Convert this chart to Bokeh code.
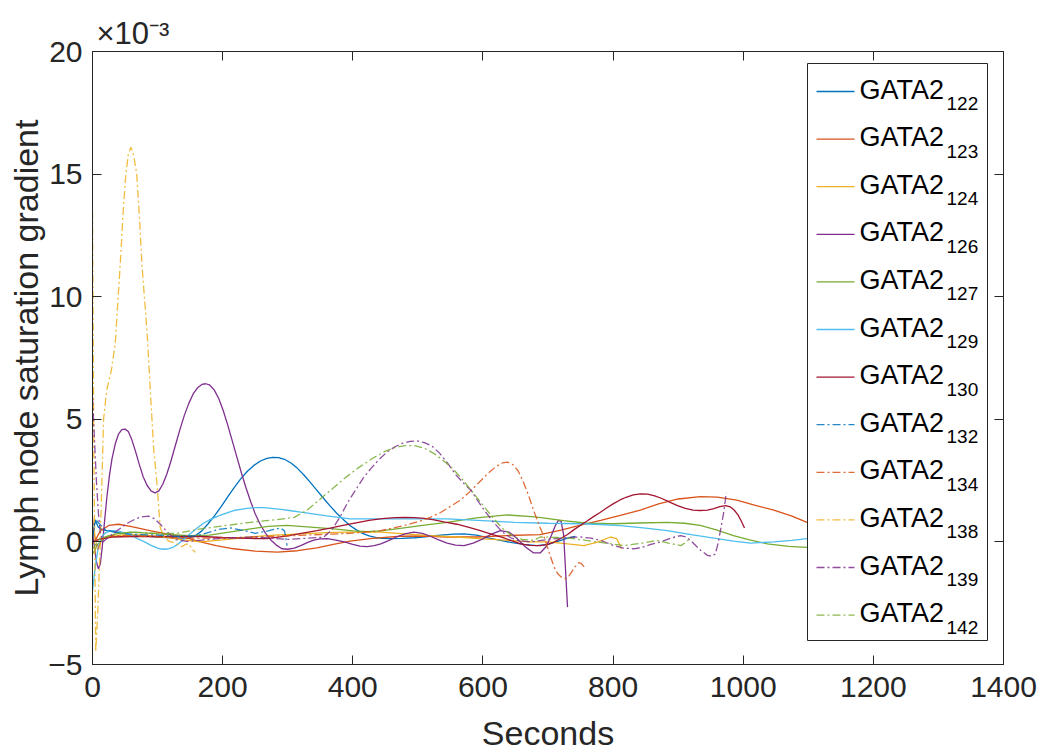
from bokeh.plotting import figure
from bokeh.models import Range1d, LinearAxis, FixedTicker, Label
from bokeh.embed import file_html
from bokeh.resources import INLINE

# ---------------------------------------------------------------------------
# Data: lymph node saturation gradient (units of 1e-3) against time in seconds
# ---------------------------------------------------------------------------
t_122 = [0, 4, 9, 15, 22, 35, 50, 71, 100, 130, 148, 158, 168, 178, 188, 198, 208, 218, 228, 238,
         248, 258, 268, 277, 286, 295, 305, 315, 325, 335, 345, 355, 365, 375, 385, 395, 405, 415,
         425, 435, 445, 458, 475, 495, 515, 535, 555, 571, 590, 610, 627, 645, 663, 683, 700, 715,
         730, 742]
v_122 = [0, 0.9, 0.6, 0.5, 0.46, 0.4, 0.33, 0.26, 0.2, 0.15, 0.16, 0.25, 0.45, 0.75, 1.08, 1.45,
         1.85, 2.22, 2.58, 2.88, 3.12, 3.3, 3.41, 3.45, 3.44, 3.37, 3.22, 3.0, 2.73, 2.42, 2.1, 1.78,
         1.47, 1.18, 0.92, 0.68, 0.5, 0.35, 0.25, 0.18, 0.14, 0.13, 0.14, 0.17, 0.22, 0.28, 0.32,
         0.33, 0.28, 0.15, 0.06, -0.03, -0.1, -0.15, -0.1, 0.02, 0.15, 0.23]

t_123 = [0, 5, 12, 25, 40, 60, 90, 120, 150, 166, 190, 217, 250, 284, 315, 345, 370, 396, 430, 473,
         510, 545, 590, 637, 688, 720, 750, 781, 811, 842, 870, 900, 934, 960, 990, 1020, 1047, 1075,
         1098, 1130, 1170, 1210]
v_123 = [0, 0.1, 0.45, 0.67, 0.72, 0.62, 0.45, 0.3, 0.12, 0.0, -0.15, -0.28, -0.38, -0.42, -0.36,
         -0.24, -0.1, 0.03, 0.14, 0.23, 0.24, 0.2, 0.2, 0.26, 0.3, 0.48, 0.68, 0.88, 1.08, 1.3, 1.55,
         1.75, 1.85, 1.83, 1.7, 1.48, 1.3, 1.05, 0.8, 0.5, 0.2, 0.0]

t_124 = [0, 10, 25, 50, 80, 110, 140, 166, 200, 240, 280, 320, 360, 396, 443, 480, 519, 560, 596, 640,
         673, 700, 730, 755, 775, 796, 806, 813]
v_124 = [0, 0.1, 0.2, 0.3, 0.28, 0.2, 0.08, 0.0, 0.08, 0.2, 0.28, 0.33, 0.38, 0.4, 0.4, 0.33, 0.26,
         0.2, 0.13, 0.06, 0.0, 0.0, -0.08, -0.15, -0.02, 0.2, 0.12, -0.28]

t_126 = [0, 3, 6, 9, 12, 15, 18, 22, 26, 30, 35, 40, 45, 50, 55, 60, 66, 72, 78, 84, 90, 96, 102, 108,
         114, 120, 127, 134, 141, 148, 155, 162, 168, 174, 180, 187, 194, 201, 208, 215, 222, 229,
         236, 243, 250, 258, 266, 274, 282, 291, 300, 310, 320, 330, 340, 350, 361, 372, 387, 400,
         411, 422, 433, 443, 455, 467, 480, 494, 507, 520, 532, 545, 558, 571, 585, 600, 613, 627,
         640, 652, 665, 678, 688, 697, 705, 711, 716, 720, 724, 727, 730]
v_126 = [0.3, -0.2, -0.8, -1.1, -0.9, -0.2, 0.7, 1.8, 2.7, 3.4, 4.0, 4.4, 4.58, 4.6, 4.5, 4.2, 3.7,
         3.15, 2.65, 2.3, 2.08, 2.0, 2.08, 2.35, 2.75, 3.25, 3.9, 4.55, 5.15, 5.65, 6.05, 6.3, 6.42,
         6.45, 6.4, 6.2, 5.85, 5.35, 4.75, 4.1, 3.45, 2.8, 2.2, 1.65, 1.15, 0.7, 0.35, 0.08, -0.12,
         -0.28, -0.3, -0.25, -0.15, -0.03, 0.07, 0.12, 0.13, 0.08, 0.0, -0.1, -0.17, -0.19, -0.15,
         -0.08, 0.05, 0.2, 0.33, 0.4, 0.35, 0.22, 0.08, -0.05, -0.13, -0.15, -0.05, 0.12, 0.32, 0.46,
         0.4, 0.15, -0.2, -0.45, -0.45, -0.2, 0.25, 0.65, 0.88, 0.85, 0.3, -1.17, -2.66]

t_127 = [0, 8, 20, 40, 60, 90, 120, 150, 180, 210, 243, 270, 299, 335, 371, 400, 422, 443, 473, 510,
         545, 590, 637, 680, 724, 760, 800, 840, 883, 910, 934, 960, 985, 1010, 1037, 1070, 1098, 1130,
         1170]
v_127 = [-0.5, -0.1, 0.2, 0.35, 0.4, 0.35, 0.3, 0.25, 0.28, 0.4, 0.53, 0.63, 0.67, 0.6, 0.53, 0.45,
         0.42, 0.45, 0.55, 0.68, 0.8, 0.98, 1.1, 1.02, 0.87, 0.76, 0.74, 0.77, 0.8, 0.76, 0.67, 0.48,
         0.26, 0.08, -0.08, -0.18, -0.22, -0.2, -0.15]

t_129 = [0, 3, 6, 9, 12, 16, 20, 26, 32, 40, 50, 60, 70, 80, 90, 100, 106, 112, 118, 125, 132, 140,
         150, 160, 170, 180, 190, 200, 217, 230, 240, 250, 263, 275, 290, 305, 320, 360, 396, 430,
         473, 510, 545, 600, 648, 700, 750, 781, 811, 850, 883, 920, 960, 985, 1011, 1047, 1075, 1098,
         1130, 1170]
v_129 = [-2.0, -1.3, -0.7, -0.2, 0.1, 0.27, 0.37, 0.44, 0.46, 0.44, 0.36, 0.25, 0.12, 0.0, -0.14,
         -0.25, -0.29, -0.3, -0.27, -0.2, -0.08, 0.1, 0.33, 0.55, 0.75, 0.9, 1.02, 1.12, 1.28, 1.34,
         1.38, 1.4, 1.4, 1.37, 1.33, 1.27, 1.21, 1.06, 0.94, 0.94, 0.94, 0.94, 0.94, 0.87, 0.8, 0.76,
         0.74, 0.71, 0.66, 0.56, 0.46, 0.3, 0.13, 0.03, -0.05, 0.0, 0.06, 0.13, 0.2, 0.3]

t_130 = [0, 10, 30, 60, 100, 140, 166, 200, 240, 268, 300, 325, 345, 365, 385, 405, 425, 445, 465,
         480, 495, 510, 525, 540, 560, 580, 596, 615, 630, 645, 658, 672, 688, 700, 710, 720, 730,
         740, 750, 760, 770, 780, 790, 800, 810, 820, 831, 842, 853, 864, 875, 887, 899, 911, 923,
         934, 945, 955, 964, 973, 980, 986, 992, 997, 1002]
v_130 = [0.0, 0.1, 0.2, 0.22, 0.22, 0.22, 0.22, 0.18, 0.14, 0.13, 0.25, 0.37, 0.46, 0.56, 0.67, 0.78,
         0.88, 0.95, 0.99, 1.0, 0.99, 0.96, 0.9, 0.82, 0.72, 0.58, 0.46, 0.3, 0.18, 0.04, -0.08,
         -0.14, -0.15, -0.1, 0.0, 0.15, 0.3, 0.5, 0.68, 0.85, 1.03, 1.2, 1.38, 1.55, 1.7, 1.82, 1.92,
         1.96, 1.95, 1.88, 1.77, 1.62, 1.48, 1.37, 1.3, 1.28, 1.3, 1.36, 1.44, 1.48, 1.43, 1.3, 1.1,
         0.85, 0.57]

t_132 = [0, 5, 12, 20, 40, 70, 100, 130, 160, 180, 192, 212, 233, 250, 270, 289, 295, 297, 299]
v_132 = [0.3, 0.9, 0.7, 0.5, 0.35, 0.3, 0.28, 0.22, 0.25, 0.4, 0.5, 0.57, 0.46, 0.35, 0.45, 0.57,
         0.45, 0.2, -0.15]

t_134 = [0, 3, 8, 15, 30, 60, 100, 150, 200, 250, 300, 350, 396, 443, 473, 500, 519, 535, 550, 565,
         580, 595, 608, 620, 630, 638, 646, 654, 662, 670, 678, 686, 694, 702, 709, 715, 721, 727,
         732, 737, 742, 747, 751, 756]
v_134 = [1.0, 0.3, -0.3, 0.1, 0.25, 0.25, 0.2, 0.15, 0.15, 0.2, 0.25, 0.3, 0.35, 0.46, 0.63, 0.82,
         1.0, 1.2, 1.45, 1.7, 2.05, 2.45, 2.8, 3.07, 3.22, 3.25, 3.15, 2.9, 2.45, 1.9, 1.28, 0.7, 0.2,
         -0.45, -1.0, -1.3, -1.45, -1.5, -1.4, -1.2, -1.0, -0.85, -0.88, -1.03]

t_138 = [0, 2, 5, 8, 11, 14, 17, 22, 29, 35, 39, 43, 47, 51, 55, 59, 63, 68, 72, 76, 80, 84, 89, 94,
         99, 104, 110, 118, 127, 137, 143, 148, 153, 158]
v_138 = [13.5, 4.0, -4.5, -2.9, -0.8, 2.0, 5.0, 6.2, 7.0, 8.1, 9.8, 11.5, 13.4, 14.9, 15.8, 16.1,
         15.8, 15.0, 13.3, 11.3, 9.9, 8.5, 6.1, 3.8, 2.4, 0.6, 0.2, 0.02, -0.05, -0.2, -0.1, -0.08,
         -0.3, -0.42]

t_139 = [0, 3, 6, 9, 12, 16, 25, 35, 45, 55, 65, 75, 86, 95, 105, 115, 127, 145, 160, 200, 250, 300,
         330, 355, 368, 380, 392, 404, 416, 428, 440, 452, 464, 476, 488, 499, 510, 522, 534, 546,
         558, 570, 582, 594, 606, 618, 630, 642, 653, 673, 700, 730, 750, 766, 781, 801, 816, 832,
         845, 858, 873, 888, 904, 912, 919, 927, 935, 945, 951, 957, 961, 965, 970, 974]
v_139 = [5.9, 4.2, 2.5, 1.2, 0.4, 0.0, 0.2, 0.4, 0.6, 0.78, 0.92, 1.02, 1.05, 0.95, 0.7, 0.4, 0.1,
         0.02, 0.05, 0.15, 0.2, 0.1, 0.15, 0.19, 0.5, 1.0, 1.6, 2.1, 2.6, 3.0, 3.35, 3.65, 3.87, 4.02,
         4.1, 4.12, 4.05, 3.9, 3.6, 3.2, 2.75, 2.4, 2.1, 1.6, 1.15, 0.75, 0.4, 0.18, 0.06, 0.0, 0.1,
         0.18, 0.2, 0.15, 0.06, -0.15, -0.25, -0.28, -0.22, -0.1, 0.0, 0.15, 0.26, 0.2, 0.06, -0.15,
         -0.35, -0.55, -0.58, -0.5, -0.1, 0.46, 1.2, 2.0]

t_142 = [0, 5, 10, 30, 60, 100, 130, 166, 200, 243, 280, 310, 330, 350, 370, 390, 410, 430, 450, 465,
         480, 495, 510, 525, 540, 555, 570, 585, 600, 615, 630, 645, 660, 678, 688, 715, 740, 780, 816,
         845, 868, 885, 904, 913, 920]
v_142 = [-0.3, -0.1, 0.1, 0.3, 0.4, 0.35, 0.35, 0.53, 0.65, 0.8, 0.9, 1.0, 1.3, 1.75, 2.2, 2.65, 3.05,
         3.4, 3.7, 3.85, 3.93, 3.93, 3.82, 3.6, 3.3, 2.95, 2.5, 2.0, 1.5, 1.0, 0.55, 0.25, 0.1, 0.06,
         0.2, 0.18, 0.13, -0.02, -0.15, -0.05, 0.06, -0.05, -0.15, 0.0, 0.2]

series_ids = ["122", "123", "124", "126", "127", "129", "130", "132", "134", "138", "139", "142"]
series_t = [t_122, t_123, t_124, t_126, t_127, t_129, t_130, t_132, t_134, t_138, t_139, t_142]
series_v = [v_122, v_123, v_124, v_126, v_127, v_129, v_130, v_132, v_134, v_138, v_139, v_142]

x_ticks = [0, 200, 400, 600, 800, 1000, 1200, 1400]
y_ticks = [-5, 0, 5, 10, 15, 20]

# ---------------------------------------------------------------------------
# Styling
# ---------------------------------------------------------------------------
palette = ["#0072BD", "#D95319", "#EDB120", "#7E2F8E", "#77AC30", "#4DBEEE", "#A2142F"]
styles = [(palette[i % 7], "solid") for i in range(7)] + \
         [(palette[i], "8 3 2 3") for i in range(5)]

FONT = "Liberation Sans"
INK = "#262626"
W, H = 1043, 756
FL, FR, FT, FB = 92, 1003, 51, 664          # plot frame edges on the canvas
X0, X1, Y0, Y1 = 0, 1400, -5, 20


def xd(px):
    """canvas pixel column -> x data value"""
    return X0 + (px - FL) / (FR - FL) * (X1 - X0)


def yd(py):
    """canvas pixel row -> y data value"""
    return Y1 - (py - FT) / (FB - FT) * (Y1 - Y0)


p = figure(width=W, height=H, output_backend="svg", toolbar_location=None,
           x_range=Range1d(X0, X1), y_range=Range1d(Y0, Y1),
           min_border_left=FL, min_border_right=W - FR,
           min_border_top=FT, min_border_bottom=H - FB)
p.background_fill_color = "white"
p.border_fill_color = "white"
p.outline_line_color = INK
p.outline_line_width = 1
p.xgrid.visible = False
p.ygrid.visible = False

# exponent marker above the y axis
p.title.text = "\u00d710\u207b\u00b3"
p.title.text_font = FONT
p.title.text_font_size = "31px"
p.title.text_font_style = "normal"
p.title.text_color = INK
p.title.align = "left"
p.title.offset = 4
p.title.standoff = 2


def style_axis(ax, ticks, show_labels):
    ax.ticker = FixedTicker(ticks=ticks)
    ax.axis_line_color = INK
    ax.axis_line_width = 1
    ax.major_tick_line_color = INK
    ax.major_tick_in = 9
    ax.major_tick_out = 0
    ax.minor_tick_line_color = None
    ax.major_label_text_font = FONT
    ax.major_label_text_color = INK
    if show_labels:
        ax.major_label_text_font_size = "30px"
    else:
        ax.major_label_text_font_size = "0px"
        ax.major_label_text_color = None
        ax.major_label_standoff = 0
    ax.axis_label_text_font = FONT
    ax.axis_label_text_font_size = "34px"
    ax.axis_label_text_font_style = "normal"
    ax.axis_label_text_color = INK


style_axis(p.xaxis[0], x_ticks, True)
style_axis(p.yaxis[0], y_ticks, True)
p.xaxis.axis_label = "Seconds"
p.yaxis.axis_label = "Lymph node saturation gradient"
p.xaxis.major_label_standoff = 12
p.yaxis.major_label_standoff = 10
p.xaxis.axis_label_standoff = 14
p.yaxis.axis_label_standoff = 0

right_ax = LinearAxis()
style_axis(right_ax, y_ticks, False)
p.add_layout(right_ax, "right")
top_ax = LinearAxis()
style_axis(top_ax, x_ticks, False)
p.add_layout(top_ax, "above")

# curves
for ts, vs, (col, dash) in zip(series_t, series_v, styles):
    p.line(ts, vs, line_color=col, line_width=1.3, line_dash=dash,
           line_alpha=1.0 if dash == "solid" else 0.85)

# legend panel
LG_L, LG_R, LG_T, LG_B = 807, 987, 63, 640
p.quad(left=xd(LG_L), right=xd(LG_R), top=yd(LG_T), bottom=yd(LG_B),
       fill_color="white", line_color=INK, line_width=1)
ROW0, ROW_STEP = 91, 47.6
for i, (sid, (col, dash)) in enumerate(zip(series_ids, styles)):
    ly = ROW0 + ROW_STEP * i
    p.line([xd(816), xd(854)], [yd(ly), yd(ly)], line_color=col, line_width=1.3, line_dash=dash,
           line_alpha=1.0 if dash == "solid" else 0.85)
    p.add_layout(Label(x=xd(859), y=yd(ly - 2), text="GATA2", text_font=FONT,
                       text_font_size="27px", text_color="black", text_baseline="alphabetic"))
    p.add_layout(Label(x=xd(946), y=yd(ly + 12), text=sid, text_font=FONT,
                       text_font_size="19px", text_color="black", text_baseline="alphabetic"))

open("out.html", "w").write(file_html(p, INLINE))
